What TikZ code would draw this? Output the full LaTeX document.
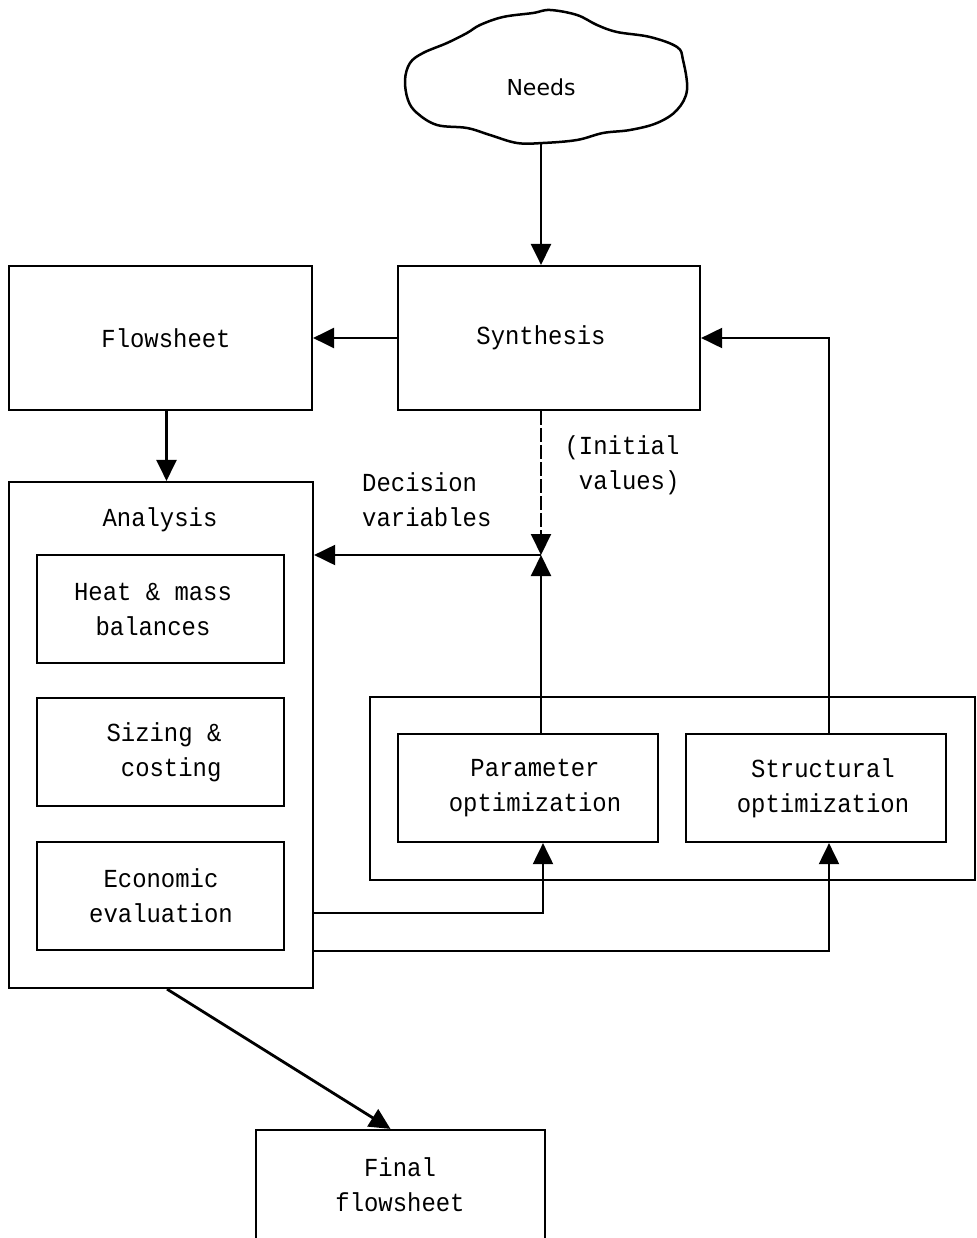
\documentclass[tikz,border=0pt]{standalone}
\usepackage{fontspec}
\setmonofont[FakeStretch=0.92]{Liberation Mono}
\newfontfamily\needsfont{DejaVu Sans}
\usetikzlibrary{arrows.meta}
\begin{document}
\begin{tikzpicture}[x=1pt,y=-1pt,
  font=\ttfamily\fontsize{26}{35}\selectfont,
  box/.style={draw, line width=2.2pt, inner sep=0pt},
  txt/.style={align=center, inner sep=0pt},
  arr/.style={line width=2.8pt, -{Triangle[length=21pt,width=20pt]}},
  thinarr/.style={line width=2pt, -{Triangle[length=21pt,width=20pt]}}]
\clip (0,0) rectangle (976,1238);
\fill[white] (0,0) rectangle (976,1238);
% cloud
\draw[line width=2.5pt] plot[smooth cycle, tension=0.6] coordinates {
 (550,10) (533,13) (503,17) (480,25) (467,33) (447,43) (423,53) (410,63)
 (405,80) (408,100) (417,113) (437,125) (467,128) (490,135) (517,143)
 (543,143) (577,140) (603,133) (630,130) (657,123) (677,110) (687,90)
 (683,60) (677,47) (650,37) (617,32) (597,25) (577,15)};
\node[font=\needsfont\fontsize{22}{26}\selectfont] (needs) at (541,87) {Needs};
\coordinate (cloudbot) at (541,143);
% boxes
\node[box, minimum width=302pt, minimum height=144pt] (syn) at (549,338) {};
\node[txt] (syntext) at (541,338) {Synthesis};
\node[box, minimum width=303pt, minimum height=144pt] (flow) at (160.5,338) {};
\node[txt] (flowtext) at (166,338) {Flowsheet};
\node[box, minimum width=304pt, minimum height=506pt] (ana) at (161,735) {};
\node[txt] (analabel) at (160,520) {Analysis};
\node[box, minimum width=247pt, minimum height=108pt] (hmb) at (160.5,609) {};
\node[txt] (hmbtext) at (153,609) {Heat \& mass\\balances};
\node[box, minimum width=247pt, minimum height=108pt] (sc) at (160.5,752) {};
\node[txt] (sctext) at (164,752) {Sizing \&\\\ costing};
\node[box, minimum width=247pt, minimum height=108pt] (ee) at (160.5,896) {};
\node[txt] (eetext) at (161,896) {Economic\\evaluation};
\node[box, minimum width=605pt, minimum height=183pt] (optbox) at (672.5,788.5) {};
\node[box, minimum width=260pt, minimum height=108pt] (par) at (528,788) {};
\node[txt] (partext) at (535,788) {Parameter\\optimization};
\node[box, minimum width=260pt, minimum height=108pt] (str) at (816,788) {};
\node[txt] (strtext) at (823,788) {Structural\\optimization};
\node[box, minimum width=289pt, minimum height=112pt] (fin) at (400.5,1186) {};
\node[txt] (fintext) at (400,1185) {Final\\flowsheet};
% labels
\node[align=left, anchor=west, inner sep=0pt] (dec) at (362,500) {Decision\\variables};
\node[align=center, inner sep=0pt] (init) at (622,465) {(Initial\\\ values)};
% coordinates
\coordinate (m) at (541,555);
\coordinate (e1) at (0,913);
\coordinate (e2) at (0,951);
% connectors
\draw[arr] (cloudbot) -- (cloudbot |- syn.north);
\draw[arr] (syn.west) -- (flow.east);
\draw[arr] ([xshift=6pt]flow.south) -- ([xshift=6pt]flow.south |- ana.north);
\draw[thinarr, dash pattern=on 14pt off 3pt] (syn.south -| m) -- (m);
\draw[thinarr] (par.north -| m) -- (m);
\draw[thinarr] (m) -- (m -| ana.east);
\draw[thinarr] ([xshift=13pt]str.north) |- (syn.east);
\draw[thinarr] (e1 -| ana.east) -| ([xshift=15pt]par.south);
\draw[thinarr] (e2 -| ana.east) -| ([xshift=13pt]str.south);
\draw[arr] ([xshift=6pt]ana.south) -- ([xshift=-10pt]fin.north);
\end{tikzpicture}
\end{document}
